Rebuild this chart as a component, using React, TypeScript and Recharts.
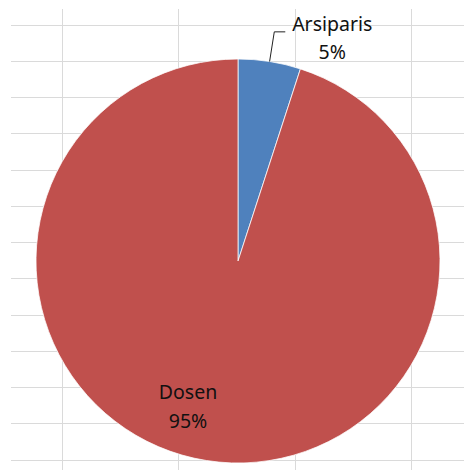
import { PieChart, Pie, Cell } from 'recharts';

const categories = ['Arsiparis', 'Dosen'];
const shares = [5, 95];
const sliceColors = ['#4F81BD', '#C0504D'];

const data = categories.map((name, i) => ({ name, value: shares[i] }));

const W = 464;
const H = 470;
const RAD = Math.PI / 180;
const FONT = '"Noto Sans", sans-serif';

// spreadsheet cells behind the chart
function SheetGrid() {
  const rows: number[] = [];
  for (let y = 24.7; y < H; y += 36.25) rows.push(Math.round(y) + 0.5);
  const cols: number[] = [];
  for (let x = 62; x < W; x += 116.4) cols.push(Math.round(x) + 0.5);
  return (
    <svg width={W} height={H} style={{ position: 'absolute', left: 0, top: 0 }}>
      {rows.map((y) => (
        <line key={`r${y}`} x1={11} x2={W} y1={y} y2={y} stroke="#dadada" strokeWidth={1} />
      ))}
      {cols.map((x) => (
        <line key={`c${x}`} x1={x} x2={x} y1={9} y2={H} stroke="#dadada" strokeWidth={1} />
      ))}
    </svg>
  );
}

function renderLabel(props: any) {
  const { cx, cy, midAngle, outerRadius, percent, name } = props;
  const pct = `${Math.round(percent * 100)}%`;
  const textStyle = { fontFamily: FONT, fontSize: 19.5, fill: '#111' };

  if (percent < 0.2) {
    // small slice: label outside with an elbow leader line
    const c = Math.cos(-midAngle * RAD);
    const s = Math.sin(-midAngle * RAD);
    const x1 = cx + outerRadius * c;
    const y1 = cy + outerRadius * s;
    const x2 = cx + (outerRadius + 30) * c;
    const y2 = cy + (outerRadius + 30) * s;
    const x3 = x2 + 11;
    const tx = x3 + 47;
    return (
      <g>
        <path d={`M${x1},${y1}L${x2},${y2}L${x3},${y2}`} stroke="#222" strokeWidth={1} fill="none" />
        <text x={tx} y={y2 - 1} textAnchor="middle" style={textStyle}>
          <tspan x={tx}>{name}</tspan>
          <tspan x={tx} dy={28.5}>{pct}</tspan>
        </text>
      </g>
    );
  }

  const a = (midAngle - 12) * RAD;
  const r = outerRadius * 0.69;
  const x = cx + r * Math.cos(-a);
  const y = cy + r * Math.sin(-a);
  return (
    <text x={x} y={y + 8} textAnchor="middle" style={textStyle}>
      <tspan x={x}>{name}</tspan>
      <tspan x={x} dy={29}>{pct}</tspan>
    </text>
  );
}

export default function App() {
  return (
    <div style={{ position: 'absolute', left: 0, top: 0, width: W, height: H, background: '#fff' }}>
      <SheetGrid />
      <div style={{ position: 'absolute', left: 0, top: 0 }}>
        <PieChart width={W} height={H} margin={{ top: 0, right: 0, bottom: 0, left: 0 }}>
          <Pie
            data={data}
            dataKey="value"
            nameKey="name"
            cx={238}
            cy={261}
            outerRadius={202}
            startAngle={90}
            endAngle={-270}
            stroke="#ffffff"
            strokeWidth={0.75}
            label={renderLabel}
            labelLine={false}
            isAnimationActive={false}
          >
            {data.map((entry, i) => (
              <Cell key={entry.name} fill={sliceColors[i]} />
            ))}
          </Pie>
        </PieChart>
      </div>
    </div>
  );
}
